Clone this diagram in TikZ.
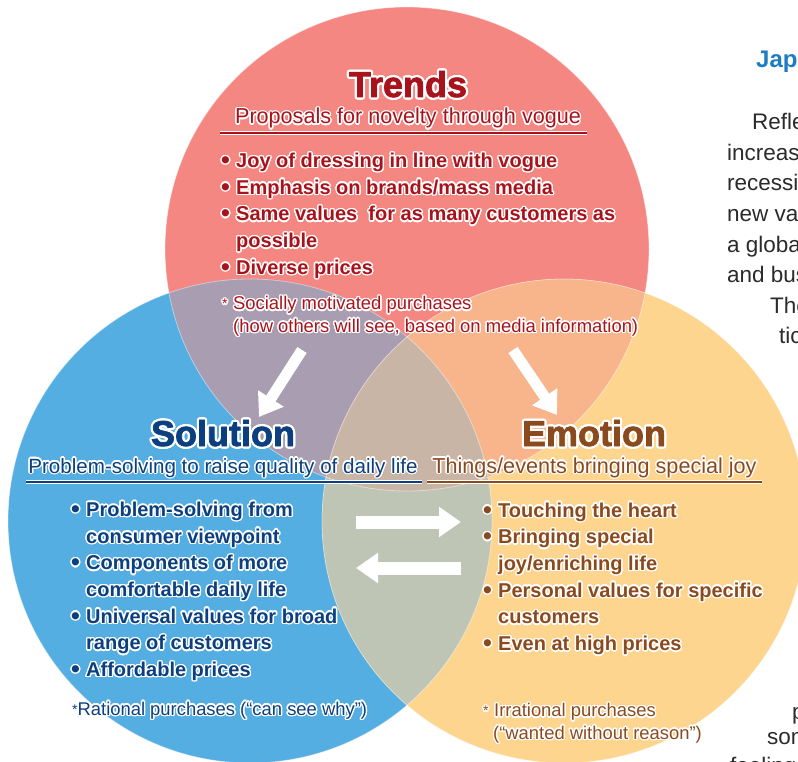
\documentclass[tikz,border=0pt]{standalone}
\usepackage{fontspec}
\setmainfont{Liberation Sans}
\newfontfamily\titlefont{Liberation Sans Bold}[FakeBold=2]
\newfontfamily\boldfont{Liberation Sans Bold}
\newfontfamily\pagefont{Liberation Sans}
\usepackage{contour}
\contourlength{1.4pt}
\usetikzlibrary{arrows.meta}

% circle fills and their overlaps
\definecolor{trendsfill}{HTML}{F48782}
\definecolor{solutionfill}{HTML}{55AEE2}
\definecolor{emotionfill}{HTML}{FDD58F}
\definecolor{tsfill}{HTML}{A89DB1}
\definecolor{tefill}{HTML}{F8B48B}
\definecolor{sefill}{HTML}{BEC5B5}
\definecolor{allfill}{HTML}{C9B5A5}
% text colours
\definecolor{trendsink}{HTML}{A8131B}
\definecolor{solutionink}{HTML}{0B3F7F}
\definecolor{emotionink}{HTML}{8B4A1E}
\definecolor{pageink}{HTML}{2B2B2B}
\definecolor{headblue}{HTML}{1C7EC0}

% haloed text, bullet items and continuation lines
\newcommand\halo[1]{\contour{white}{#1}}
\newcommand\bitem[1]{\makebox[15pt][l]{\halo{\raisebox{-1pt}{\fontsize{25}{25}\selectfont\textbullet}}}\halo{#1}}
\newcommand\bcont[1]{\hspace*{15pt}\halo{#1}}
\newcommand\starmark{\raisebox{1pt}{\fontsize{14}{14}\selectfont *}}

\begin{document}
\begin{tikzpicture}[x=1pt,y=-1pt,
  title/.style={inner sep=0pt, anchor=base, font=\titlefont\fontsize{36}{36}\selectfont},
  subtitle/.style={inner sep=0pt, anchor=base, font=\fontsize{21.6}{21.6}\selectfont},
  itemlist/.style={inner sep=0pt, anchor=west, align=left, font=\boldfont\fontsize{20}{26.7}\selectfont},
  footnote/.style={inner sep=0pt, anchor=west, align=left, font=\fontsize{18.4}{22.5}\selectfont},
  underhalo/.style={white, line width=3.6pt},
  underline/.style={line width=1.3pt},
  blockarrow/.style={draw=white, line width=#1, -{Triangle[width=29pt,length=22pt]}},
  pagetext/.style={inner sep=0pt, anchor=base west, text=pageink, font=\pagefont\fontsize{22.5}{22.5}\selectfont},
  ring/.style={draw=white, draw opacity=0.45, line width=0.8pt}]

\useasboundingbox (0,0) rectangle (798,762);
\fill[white] (0,0) rectangle (798,762);

\coordinate (cT) at (407,249);
\coordinate (cS) at (250,521);
\coordinate (cE) at (564,521);

\begin{scope}
  \clip (0,0) rectangle (798,762);
  % the three circles
  \fill[trendsfill] (cT) circle[radius=242];
  \fill[solutionfill] (cS) circle[radius=242];
  \fill[emotionfill] (cE) circle[radius=242];
  % pairwise overlaps
  \begin{scope}
    \clip (cT) circle[radius=242];
    \fill[tsfill] (cS) circle[radius=242];
    \fill[tefill] (cE) circle[radius=242];
  \end{scope}
  \begin{scope}
    \clip (cS) circle[radius=242];
    \fill[sefill] (cE) circle[radius=242];
  \end{scope}
  % common centre
  \begin{scope}
    \clip (cT) circle[radius=242];
    \clip (cS) circle[radius=242];
    \fill[allfill] (cE) circle[radius=242];
  \end{scope}
  \draw[ring] (cT) circle[radius=242];
  \draw[ring] (cS) circle[radius=242];
  \draw[ring] (cE) circle[radius=242];

  % running text of the page beside the diagram
  \node[inner sep=0pt, anchor=base west, text=headblue, font=\boldfont\fontsize{24}{24}\selectfont] (head) at (756,68) {Jap};
  \node[pagetext] (p1) at (752,130) {Refle};
  \node[pagetext] (p2) at (727,160.5) {increas};
  \node[pagetext] (p3) at (727,191) {recessi};
  \node[pagetext] (p4) at (727,221.5) {new val};
  \node[pagetext] (p5) at (727,252) {a globa};
  \node[pagetext] (p6) at (727,282.5) {and bus};
  \node[pagetext] (p7) at (770,313) {The};
  \node[pagetext] (p8) at (779,343.5) {tic};
  \node[pagetext] (p9) at (792,719) {p};
  \node[pagetext] (p10) at (767,744) {som};
  \node[pagetext] (p11) at (730,773) {feeling};
\end{scope}

% ---- Trends ----
\node[title, text=trendsink] (trendsTitle) at (408,97) {{\contourlength{2.2pt}\halo{Trends}}};
\node[subtitle, text=trendsink] (trendsSub) at (408,124) {\halo{Proposals for novelty through vogue}};
\coordinate (tuL) at (220,133); \coordinate (tuR) at (587,133);
\draw[underhalo] (tuL) -- (tuR);
\draw[underline, trendsink] (tuL) -- (tuR);
\node[itemlist, text=trendsink] (trendsList) at (221,216.5) {%
  \bitem{Joy of dressing in line with vogue}\\
  \bitem{Emphasis on brands/mass media}\\
  \bitem{Same values\ \ for as many customers as}\\
  \bcont{possible}\\
  \bitem{Diverse prices}};
\node[footnote, text=trendsink] (trendsNote) at (222,317) {%
  \makebox[11pt][l]{\halo{\starmark}}\halo{Socially motivated purchases}\\
  \hspace*{11pt}\halo{(how others will see, based on media information)}};

% ---- Solution ----
\node[title, text=solutionink] (solTitle) at (223,446) {{\contourlength{2.2pt}\halo{Solution}}};
\node[subtitle, text=solutionink, font=\fontsize{20.6}{20.6}\selectfont] (solSub) at (223,473) {\halo{Problem-solving to raise quality of daily life}};
\coordinate (suL) at (26,482); \coordinate (suR) at (422,482);
\draw[underhalo] (suL) -- (suR);
\draw[underline, solutionink] (suL) -- (suR);
\node[itemlist, text=solutionink] (solList) at (71,592) {%
  \bitem{Problem-solving from}\\
  \bcont{consumer viewpoint}\\
  \bitem{Components of more}\\
  \bcont{comfortable daily life}\\
  \bitem{Universal values for broad}\\
  \bcont{range of customers}\\
  \bitem{Affordable prices}};
\node[footnote, text=solutionink] (solNote) at (72,711) {%
  \halo{\starmark Rational purchases (“can see why”)}};

% ---- Emotion ----
\node[title, text=emotionink] (emoTitle) at (594,446) {{\contourlength{2.2pt}\halo{Emotion}}};
\node[subtitle, text=emotionink] (emoSub) at (594.5,473) {\halo{Things/events bringing special joy}};
\coordinate (euL) at (427,482); \coordinate (euR) at (762,482);
\draw[underhalo] (euL) -- (euR);
\draw[underline, emotionink] (euL) -- (euR);
\node[itemlist, text=emotionink] (emoList) at (483,579.5) {%
  \bitem{Touching the heart}\\
  \bitem{Bringing special}\\
  \bcont{joy/enriching life}\\
  \bitem{Personal values for specific}\\
  \bcont{customers}\\
  \bitem{Even at high prices}};
\node[footnote, text=emotionink] (emoNote) at (483,724) {%
  \makebox[11pt][l]{\halo{\starmark}}\halo{Irrational purchases}\\
  \hspace*{10pt}\halo{(“wanted without reason”)}};

% ---- flow arrows ----
\coordinate (aTSs) at (302,350); \coordinate (aTSe) at (259,417);
\coordinate (aTEs) at (513,350); \coordinate (aTEe) at (557,415);
\coordinate (aSEs) at (356,522); \coordinate (aSEe) at (461,522);
\coordinate (aESs) at (461,568); \coordinate (aESe) at (356,568);
\draw[blockarrow=11pt] (aTSs) -- (aTSe);
\draw[blockarrow=11pt] (aTEs) -- (aTEe);
\draw[blockarrow=13pt] (aSEs) -- (aSEe);
\draw[blockarrow=13pt] (aESs) -- (aESe);
\end{tikzpicture}
\end{document}
